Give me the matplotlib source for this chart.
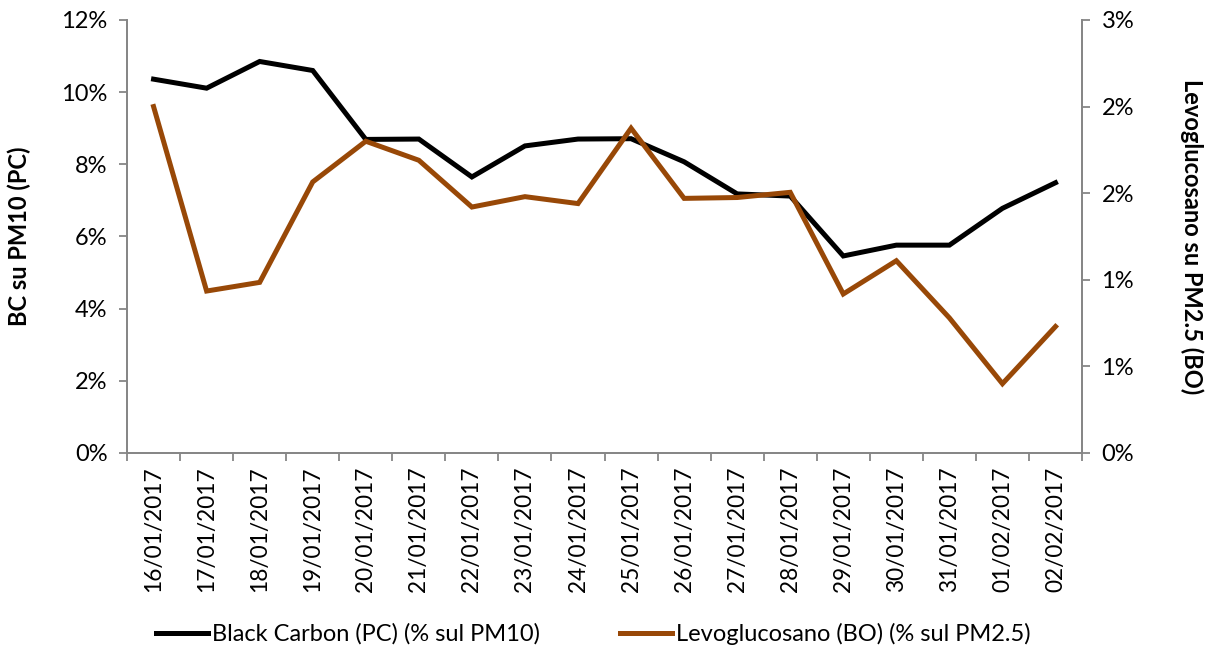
import numpy as np
import matplotlib
matplotlib.use("Agg")
import matplotlib.pyplot as plt
from matplotlib.ticker import FuncFormatter

plt.rcParams["font.family"] = ["Lato", "DejaVu Sans"]

# dati
date = ["16/01/2017", "17/01/2017", "18/01/2017", "19/01/2017", "20/01/2017",
        "21/01/2017", "22/01/2017", "23/01/2017", "24/01/2017", "25/01/2017",
        "26/01/2017", "27/01/2017", "28/01/2017", "29/01/2017", "30/01/2017",
        "31/01/2017", "01/02/2017", "02/02/2017"]
bc_pm10 = [10.36, 10.11, 10.85, 10.60, 8.69, 8.70, 7.65, 8.51, 8.70, 8.71,
           8.07, 7.18, 7.12, 5.46, 5.76, 5.76, 6.78, 7.49]
levo_pm25 = [2.00, 0.935, 0.985, 1.565, 1.80, 1.69, 1.42, 1.48, 1.44, 1.875,
             1.47, 1.475, 1.505, 0.918, 1.11, 0.78, 0.40, 0.73]

grigio = "#868686"
arancio = "#984807"
fs = 17

fig = plt.figure(figsize=(12.11, 6.53), dpi=100)
ax = fig.add_axes([0.1049, 0.3063, 0.7886, 0.6631])
ax2 = ax.twinx()

x = np.arange(len(date))
l1, = ax.plot(x, bc_pm10, color="black", lw=3.6, solid_joinstyle="miter",
              label="Black Carbon (PC) (% sul PM10)")
l2, = ax2.plot(x, levo_pm25, color=arancio, lw=3.6, solid_joinstyle="miter",
               label="Levoglucosano (BO) (% sul PM2.5)")

ax.set_xlim(-0.5, len(date) - 0.5)
ax.set_ylim(0, 12)
ax.set_yticks(np.arange(0, 12.1, 2))
ax.yaxis.set_major_formatter(FuncFormatter(lambda v, p: f"{int(np.floor(v + 0.5))}%"))
ax2.set_ylim(0, 2.5)
ax2.set_yticks(np.arange(0, 2.51, 0.5))
# arrotondamento come Excel (0.5 -> 1)
ax2.yaxis.set_major_formatter(FuncFormatter(lambda v, p: f"{int(np.floor(v + 0.5 + 1e-9))}%"))

ax.set_xticks(x)
ax.set_xticklabels(date, rotation=90, fontsize=16.3)
ax.set_xticks(np.arange(-0.5, len(date)), minor=True)
ax.tick_params(axis="x", which="major", length=0, pad=10)
ax.tick_params(axis="x", which="minor", length=6, color=grigio, width=1.3)
ax.tick_params(axis="y", length=6, color=grigio, width=1.3, labelsize=fs, pad=8)
ax2.tick_params(axis="y", length=6, color=grigio, width=1.3, labelsize=fs, pad=8)

for a in (ax, ax2):
    a.spines["top"].set_visible(False)
    for s in ("left", "right", "bottom"):
        a.spines[s].set_color(grigio)
        a.spines[s].set_linewidth(1.3)

ax.set_ylabel("BC su PM10 (PC)", fontsize=fs, fontweight="bold", labelpad=22)
ax2.set_ylabel("Levoglucosano su PM2.5 (BO)", fontsize=fs, fontweight="bold",
               rotation=270, labelpad=50)

fig.legend(handles=[l1, l2], loc="lower center", bbox_to_anchor=(0.49, -0.02),
           ncol=2, frameon=False, fontsize=fs, handlelength=2.2,
           handletextpad=0.15, columnspacing=3.4)

plt.savefig("out.png", dpi=100)
